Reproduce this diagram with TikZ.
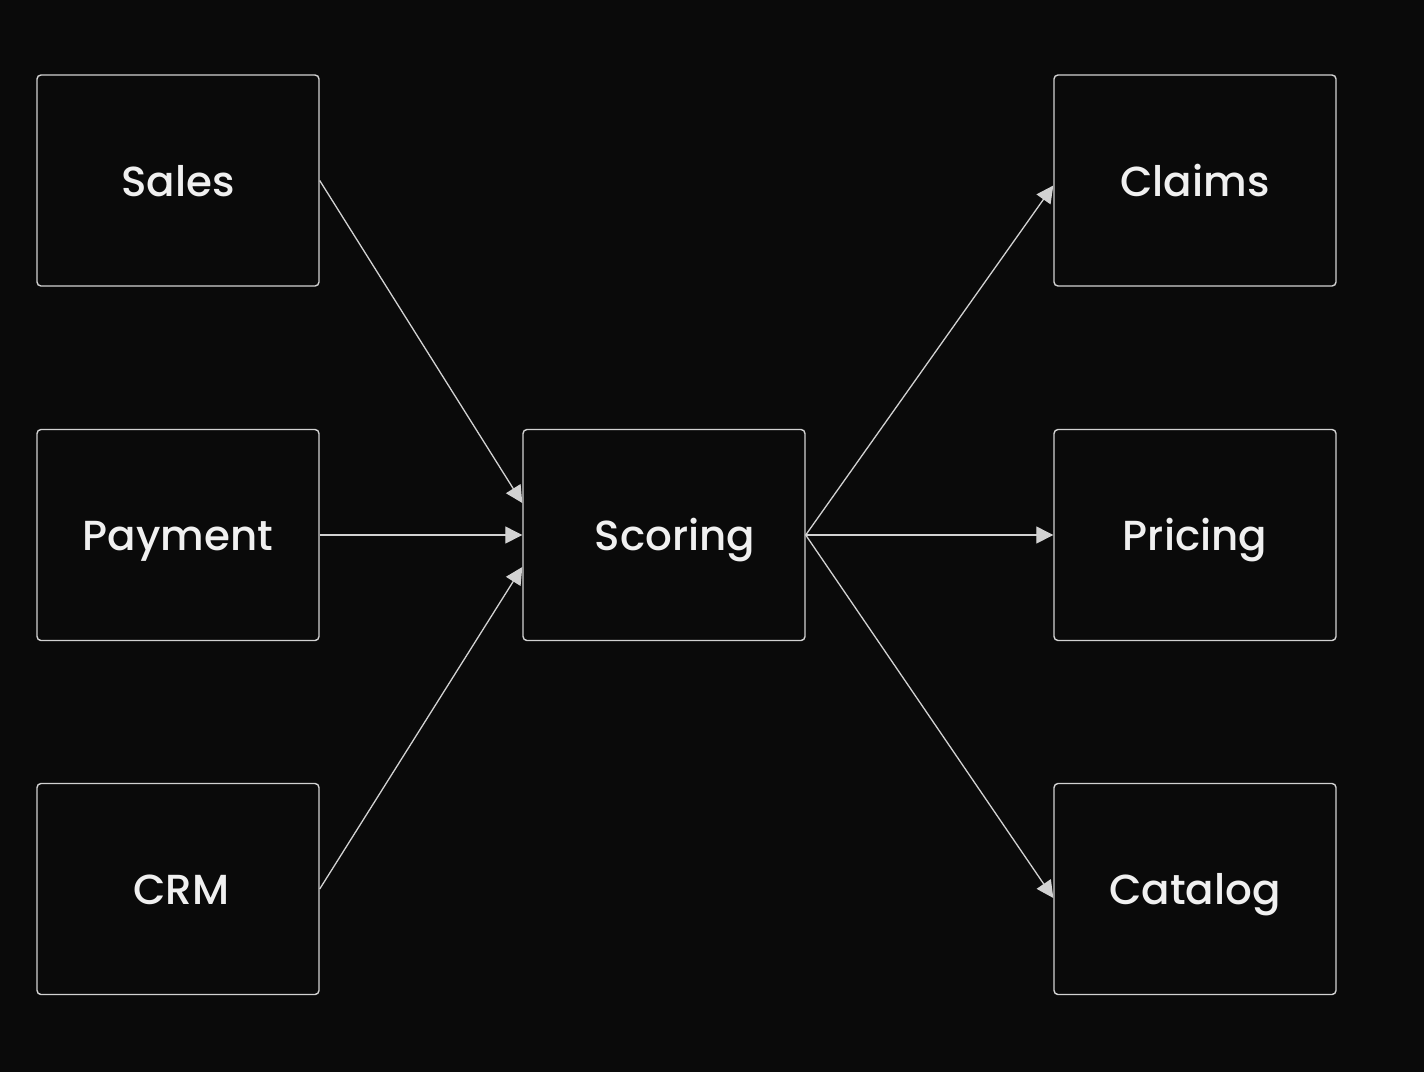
\documentclass[tikz,border=0pt]{standalone}
\usepackage{fontspec}
\setmainfont{Poppins Medium}
\usetikzlibrary{arrows.meta}
\definecolor{bg}{HTML}{0A0A0A}
\definecolor{edge}{HTML}{D2D2D2}
\definecolor{txt}{HTML}{F0F0F0}
\tikzset{
  box/.style={draw=edge, line width=1.4pt, rounded corners=4pt, minimum width=282pt, minimum height=211pt, inner sep=0pt, text=txt, text height=31pt, text depth=0pt, font=\fontsize{42}{50}\selectfont},
  conn/.style={draw=edge, line width=1.3pt, -{Triangle[length=17pt,width=17pt]}},
}
\begin{document}
\begin{tikzpicture}[x=1pt,y=-1pt]
\fill[bg] (0,0) rectangle (1424,1072);
\useasboundingbox (0,0) rectangle (1424,1072);
\node[box] (sales) at (178,180.5) {Sales};
\node[box] (payment) at (178,535) {Payment};
\node[box] (crm) at (178,889) {\hspace*{7pt}CRM};
\node[box] (scoring) at (664,535) {\hspace*{22pt}Scoring};
\node[box] (claims) at (1195,180.5) {Claims};
\node[box] (pricing) at (1195,535) {Pricing};
\node[box] (catalog) at (1195,889) {Catalog};
\draw[conn] (sales.east) -- ([yshift=32pt]scoring.west);
\draw[conn] (payment.east) -- (scoring.west);
\draw[conn] (crm.east) -- ([yshift=-32pt]scoring.west);
\draw[conn] (scoring.east) -- ([yshift=-5pt]claims.west);
\draw[conn] (scoring.east) -- (pricing.west);
\draw[conn] (scoring.east) -- ([yshift=-9pt]catalog.west);
\end{tikzpicture}
\end{document}
